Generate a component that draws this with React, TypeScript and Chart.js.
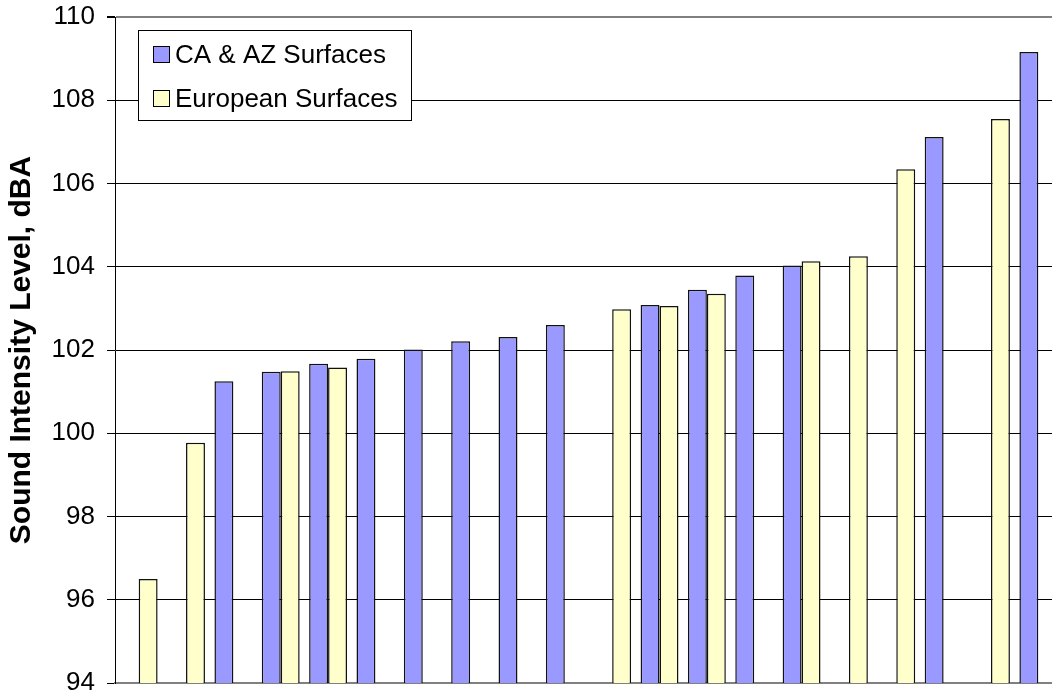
import React, { useEffect, useRef } from "react";
import { Chart, registerables } from "chart.js";

Chart.register(...registerables);

const categories = [
  "1", "2", "3", "4", "5", "6", "7", "8", "9", "10",
  "11", "12", "13", "14", "15", "16", "17", "18", "19", "20",
];

const caAzLabel = "CA & AZ Surfaces";
const caAzValues = [
  null, null, 101.25, 101.48, 101.67, 101.79, 102.01, 102.21, 102.31, 102.6,
  null, 103.08, 103.45, 103.79, 104.03, null, null, 107.12, null, 109.16,
];

const europeanLabel = "European Surfaces";
const europeanValues = [
  96.5, 99.77, null, 101.49, 101.58, null, null, null, null, null,
  102.98, 103.06, 103.35, null, 104.13, 104.25, 106.34, null, 107.55, null,
];

const yMin = 94;
const yMax = 110;
const yStep = 2;
const yTitle = "Sound Intensity Level, dBA";

const FONT = '"Liberation Sans", Arial, Helvetica, sans-serif';

const legendPlugin = {
  id: "boxLegend",
  afterDraw(chart: any) {
    const ctx = chart.ctx;
    const x = 138.5;
    const y = 30.5;
    const w = 273;
    const h = 90;
    ctx.save();
    ctx.fillStyle = "#ffffff";
    ctx.fillRect(x, y, w, h);
    ctx.strokeStyle = "#000000";
    ctx.lineWidth = 1;
    ctx.strokeRect(x, y, w, h);
    ctx.font = `26px ${FONT}`;
    ctx.textAlign = "left";
    ctx.textBaseline = "alphabetic";
    const rows = [63, 107];
    chart.data.datasets.forEach((ds: any, i: number) => {
      const base = rows[i];
      const sw = 16;
      const sx = 153.5;
      const sy = base - 16.5;
      ctx.fillStyle = ds.backgroundColor;
      ctx.fillRect(sx, sy, sw, sw);
      ctx.strokeStyle = "#000000";
      ctx.lineWidth = 1;
      ctx.strokeRect(sx, sy, sw, sw);
      ctx.fillStyle = "#000000";
      ctx.fillText(ds.label, 175, base);
    });
    ctx.restore();
  },
};

export default function App() {
  const canvasRef = useRef<HTMLCanvasElement | null>(null);

  useEffect(() => {
    const canvas = canvasRef.current;
    if (!canvas) return;
    const chart = new Chart(canvas, {
      type: "bar",
      data: {
        labels: categories,
        datasets: [
          {
            label: caAzLabel,
            data: caAzValues,
            backgroundColor: "#9999FF",
            borderColor: "#111111",
            borderWidth: 1.5,
          },
          {
            label: europeanLabel,
            data: europeanValues,
            backgroundColor: "#FFFFCC",
            borderColor: "#111111",
            borderWidth: 1.5,
          },
        ],
      },
      options: {
        responsive: false,
        animation: false,
        devicePixelRatio: 1,
        layout: { padding: { left: 0, right: 8, top: 17, bottom: 15 } },
        datasets: {
          bar: { categoryPercentage: 0.8, barPercentage: 1 },
        },
        plugins: {
          legend: { display: false },
          tooltip: { enabled: false },
          title: { display: false },
        },
        scales: {
          x: {
            type: "category",
            offset: true,
            grid: { display: false, drawTicks: false },
            ticks: { display: false },
            border: { display: true, color: "#808080", width: 2 },
            afterFit(scale: any) {
              scale.height = 0;
            },
          },
          y: {
            type: "linear",
            min: yMin,
            max: yMax,
            afterFit(scale: any) {
              scale.width = 115;
              scale.paddingTop = 0;
              scale.paddingBottom = 0;
            },
            ticks: {
              stepSize: yStep,
              padding: 12,
              color: "#000000",
              font: { family: FONT, size: 26, lineHeight: 1 },
            },
            grid: {
              drawTicks: true,
              tickLength: 8,
              tickColor: "#000000",
              color: (c: any) =>
                c.tick && c.tick.value === yMax
                  ? "#808080"
                  : c.tick && c.tick.value === yMin
                  ? "rgba(0,0,0,0)"
                  : "#000000",
              lineWidth: (c: any) => (c.tick && c.tick.value === yMax ? 2 : 1),
            },
            border: { display: true, color: "#000000", width: 1 },
            title: {
              display: true,
              text: yTitle,
              color: "#000000",
              font: { family: FONT, size: 30, weight: "bold", lineHeight: 1.2 },
              padding: { top: 4, bottom: 0 },
            },
          },
        },
      },
      plugins: [legendPlugin],
    });
    return () => chart.destroy();
  }, []);

  return (
    <div
      style={{
        position: "fixed",
        left: 0,
        top: 0,
        width: 1052,
        height: 698,
        overflow: "hidden",
        background: "#ffffff",
      }}
    >
      <canvas
        ref={canvasRef}
        width={1070}
        height={698}
        style={{ display: "block", width: 1070, height: 698 }}
      />
    </div>
  );
}
